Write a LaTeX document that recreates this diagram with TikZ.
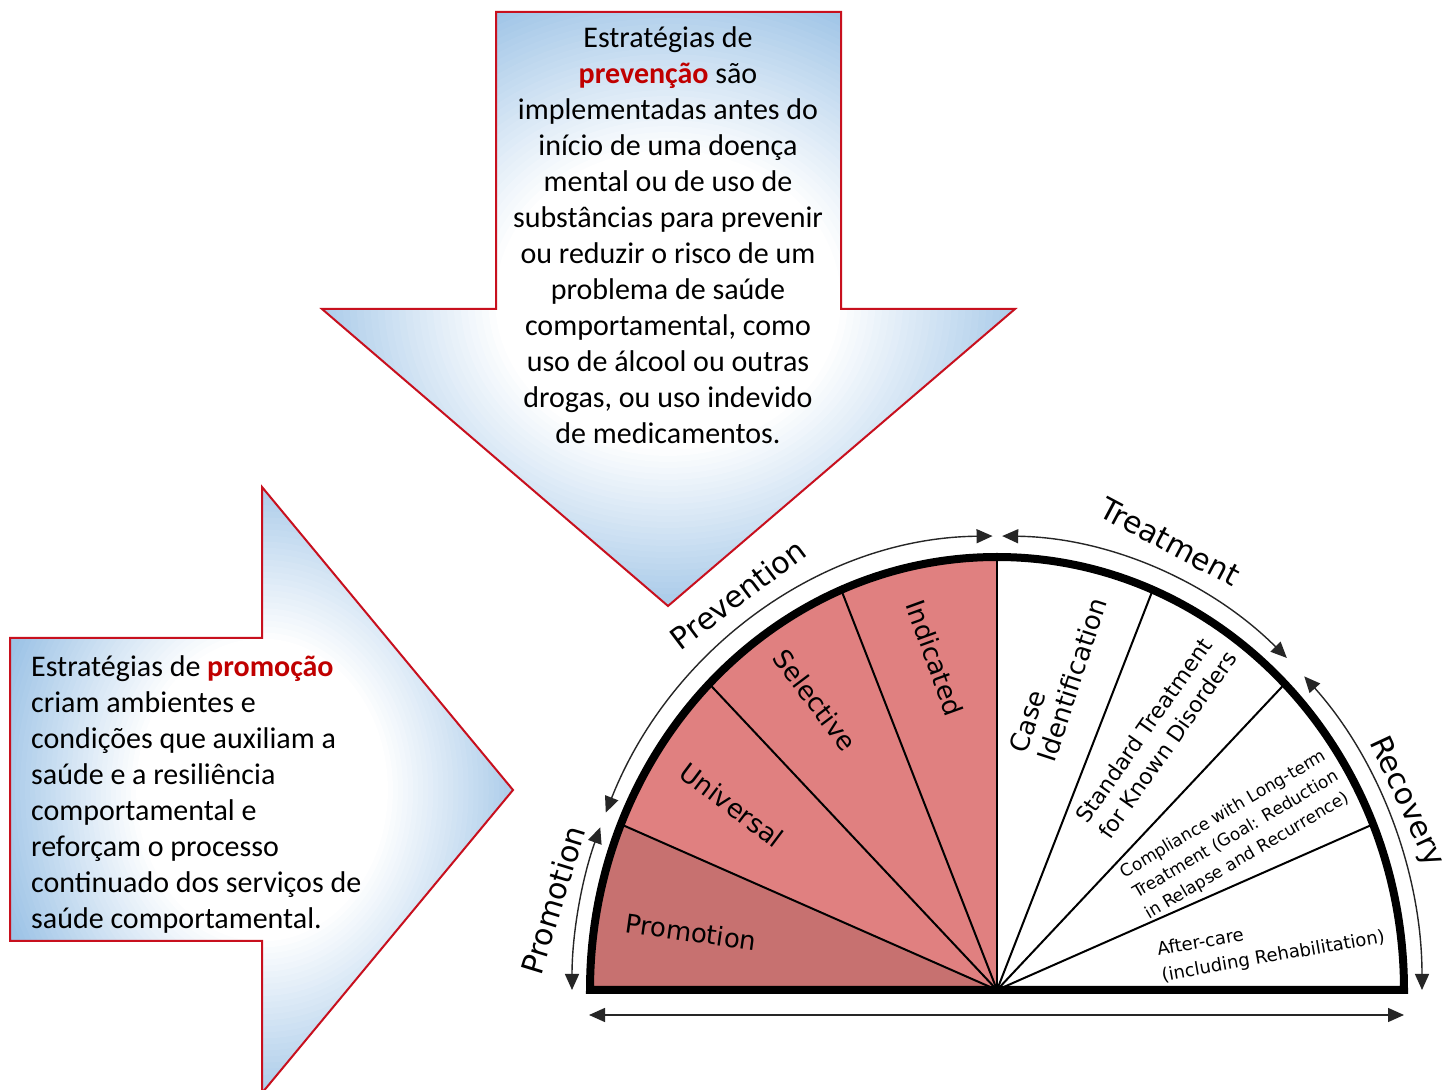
\documentclass[tikz,border=0pt]{standalone}
\usepackage{fontspec}
\setmainfont{Carlito}
\newfontfamily\dvfont{DejaVu Sans}
\usetikzlibrary{arrows.meta,calc}
\definecolor{arrowblue}{RGB}{157,195,230}
\definecolor{pvred}{RGB}{192,0,0}
\definecolor{bordred}{RGB}{200,16,30}
\definecolor{promofill}{RGB}{199,113,112}
\definecolor{pinkfill}{RGB}{224,128,128}
\begin{document}
\begin{tikzpicture}[x=1pt,y=1pt,
  arrowline/.style={draw=bordred, line width=2pt, line join=miter},
  bodytext/.style={font=\fontsize{30}{36}\selectfont, inner sep=0pt},
  outerlbl/.style={font=\dvfont\fontsize{30}{36}\selectfont, inner sep=0pt},
  innerlbl/.style={font=\dvfont\fontsize{26}{30}\selectfont, inner sep=0pt},
  divider/.style={line width=2pt, black},
  rangearrow/.style={line width=1.4pt, black!85, {Triangle[length=16pt,width=14pt]}-{Triangle[length=16pt,width=14pt]}}
]
\useasboundingbox (0,0) rectangle (1444,1090);
\fill[white] (0,0) rectangle (1444,1090);

% ---------- down arrow (prevention) ----------
\begin{scope}
\clip (496,1078) -- (841,1078) -- (841,781) -- (1015,781) -- (668,484) -- (322,781) -- (496,781) -- cycle;
\fill[arrowblue] (300,450) rectangle (1050,1090);
\foreach \r in {1.2,1.18,...,0.49}{
  \pgfmathsetmacro\pc{max(0,min(100,(\r-0.5)/0.6*100))}
  \pgfmathsetmacro\ex{\r*346}
  \pgfmathsetmacro\ey{\r*300}
  \fill[arrowblue!\pc!white] (668,790) ellipse [x radius=\ex pt, y radius=\ey pt];
}
\end{scope}
\path[arrowline] (496,1078) -- (841,1078) -- (841,781) -- (1015,781) -- (668,484) -- (322,781) -- (496,781) -- cycle;
\node[bodytext, align=center] (prevtext) at (668,855) {Estratégias de\\
{\bfseries\color{pvred}prevenção} são\\
implementadas antes do\\
início de uma doença\\
mental ou de uso de\\
substâncias para prevenir\\
ou reduzir o risco de um\\
problema de saúde\\
comportamental, como\\
uso de álcool ou outras\\
drogas, ou uso indevido\\
de medicamentos.};

% ---------- right arrow (promotion) ----------
\begin{scope}
\clip (10,452) -- (262,452) -- (262,603) -- (513,300) -- (262,-3) -- (262,149) -- (10,149) -- cycle;
\fill[arrowblue] (0,-10) rectangle (520,610);
\foreach \r in {1.2,1.18,...,0.49}{
  \pgfmathsetmacro\pc{max(0,min(100,(\r-0.5)/0.6*100))}
  \pgfmathsetmacro\ex{\r*252}
  \pgfmathsetmacro\ey{\r*303}
  \fill[arrowblue!\pc!white] (262,300) ellipse [x radius=\ex pt, y radius=\ey pt];
}
\end{scope}
\path[arrowline] (10,452) -- (262,452) -- (262,603) -- (513,300) -- (262,-3) -- (262,149) -- (10,149) -- cycle;
\node[bodytext, align=left, anchor=west] (promtext) at (31,295) {Estratégias de {\bfseries\color{pvred}promoção}\\
criam ambientes e\\
condições que auxiliam a\\
saúde e a resiliência\\
comportamental e\\
reforçam o processo\\
continuado dos serviços de\\
saúde comportamental.};

% ---------- semicircle ----------
\coordinate (C) at (997,100);
\fill[promofill] (C) -- ($(C)+(180:407pt and 433pt)$) arc[start angle=180, end angle=157.5, x radius=407pt, y radius=433pt] -- cycle;
\fill[pinkfill] (C) -- ($(C)+(157.5:407pt and 433pt)$) arc[start angle=157.5, end angle=90, x radius=407pt, y radius=433pt] -- cycle;
\foreach \a/\nm in {157.5/d1,135/d2,112.5/d3,90/d4,67.5/d5,45/d6,22.5/d7}{
  \coordinate (\nm) at ($(C)+(\a:407pt and 433pt)$);
  \draw[divider] (C) -- (\nm);
}
\draw[line width=8pt, line join=miter] ($(C)+(180:407pt and 433pt)$) coordinate (L) arc[start angle=180, end angle=0, x radius=407pt, y radius=433pt] coordinate (R) -- (L) -- cycle;

% ---------- range arrows ----------
\draw[rangearrow] ($(C)+(159:425pt and 454pt)$) coordinate (pa) arc[start angle=159, end angle=180, x radius=425pt, y radius=454pt] coordinate (pb);
\draw[rangearrow] ($(C)+(157:425pt and 454pt)$) coordinate (va) arc[start angle=157, end angle=90.6, x radius=425pt, y radius=454pt] coordinate (vb);
\draw[rangearrow] ($(C)+(89.3:425pt and 454pt)$) coordinate (ta) arc[start angle=89.3, end angle=47, x radius=425pt, y radius=454pt] coordinate (tb);
\draw[rangearrow] ($(C)+(43.7:425pt and 454pt)$) coordinate (ra) arc[start angle=43.7, end angle=0, x radius=425pt, y radius=454pt] coordinate (rb);
\coordinate (bl) at (589,75);
\coordinate (br) at (1404,75);
\draw[rangearrow] (bl) -- (br);

% ---------- outer labels ----------
\node[outerlbl, rotate=37] (lprev) at (738,496) {Prevention};
\node[outerlbl, rotate=-28] (ltreat) at (1170,548) {Treatment};
\node[outerlbl, rotate=-65] (lrec) at (1406,288) {Recovery};
\node[outerlbl, rotate=73] (lprom) at (553,190) {Promotion};

% ---------- sector labels ----------
\node[innerlbl, rotate=-8] (sprom) at (691,158) {Promotion};
\node[innerlbl, rotate=-37] (suniv) at (732,285) {Universal};
\node[innerlbl, rotate=-53] (ssel) at (815,390) {Selective};
\node[innerlbl, rotate=-70] (sind) at (935,432) {Indicated};
\node[innerlbl, align=left, rotate=72] (scase) at (1058,415) {Case\\Identification};
\node[font=\dvfont\fontsize{22}{28}\selectfont, inner sep=0pt, align=left, rotate=55] (sstd) at (1156,353) {Standard Treatment\\for Known Disorders};
\node[font=\dvfont\fontsize{17}{24}\selectfont, inner sep=0pt, align=left, rotate=30.5] (scomp) at (1236,255) {Compliance with Long-term\\Treatment (Goal: Reduction\\in Relapse and Recurrence)};
\node[font=\dvfont\fontsize{18}{26}\selectfont, inner sep=0pt, align=left, rotate=10] (safter) at (1271,146) {After-care\\(including Rehabilitation)};
\end{tikzpicture}
\end{document}
